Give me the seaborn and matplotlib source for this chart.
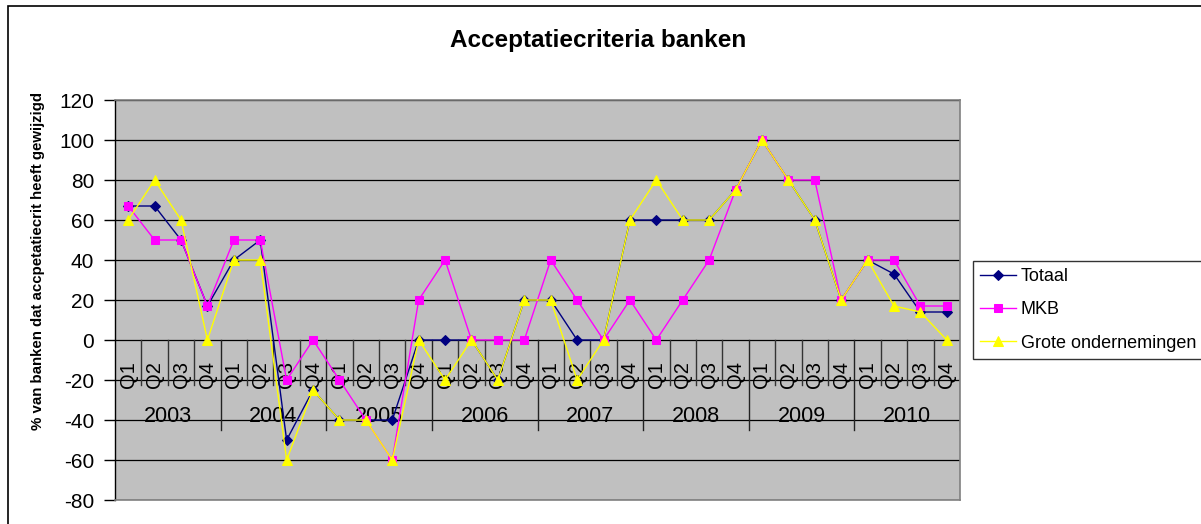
import matplotlib
matplotlib.use("Agg")
import matplotlib.pyplot as plt
import seaborn as sns
import pandas as pd
import numpy as np

years = ['2003', '2004', '2005', '2006', '2007', '2008', '2009', '2010']
quarters = ['Q1', 'Q2', 'Q3', 'Q4']
totaal = [67, 67, 50, 17, 40, 50, -50, -25, -40, -40, -40, 0, 0, 0, -20, 20,
          20, 0, 0, 60, 60, 60, 60, 75, 100, 80, 60, 20, 40, 33, 14, 14]
mkb = [67, 50, 50, 17, 50, 50, -20, 0, -20, -40, -60, 20, 40, 0, 0, 0,
       40, 20, 0, 20, 0, 20, 40, 75, 100, 80, 80, 20, 40, 40, 17, 17]
grote = [60, 80, 60, 0, 40, 40, -60, -25, -40, -40, -60, 0, -20, 0, -20, 20,
         20, -20, 0, 60, 80, 60, 60, 75, 100, 80, 60, 20, 40, 17, 14, 0]
series_names = ['Totaal', 'MKB', 'Grote ondernemingen']
yticks = [-80, -60, -40, -20, 0, 20, 40, 60, 80, 100, 120]

FONT = 'Liberation Sans'
plt.rcParams['font.family'] = [FONT, 'DejaVu Sans']

n = len(years) * len(quarters)
pos = np.arange(n)
df = pd.DataFrame({
    'pos': np.tile(pos, 3),
    'value': totaal + mkb + grote,
    'series': np.repeat(series_names, n),
})

W, H = 1201, 524
fig = plt.figure(figsize=(W / 100, H / 100), dpi=100)
fig.patch.set_facecolor('white')

# outer chart border
fig.add_artist(plt.Rectangle((8 / W, -0.05), 1.1, (H - 6) / H + 0.05,
                             transform=fig.transFigure, fill=False,
                             edgecolor='black', linewidth=1.2))

ax = fig.add_axes([115 / W, (H - 500) / H, (960 - 115) / W, 400 / H])
ax.set_facecolor('#C0C0C0')

styles = {
    'Totaal': dict(color='#000080', marker='D', markersize=5),
    'MKB': dict(color='#FF00FF', marker='s', markersize=6),
    'Grote ondernemingen': dict(color='#FFFF00', marker='^', markersize=7),
}
for i, name in enumerate(series_names):
    st = styles[name]
    sns.lineplot(data=df[df['series'] == name], x='pos', y='value', ax=ax,
                 color=st['color'], marker=st['marker'], markersize=st['markersize'],
                 markeredgecolor=st['color'], linewidth=1.0, label=name,
                 zorder=5 + i)

ax.set_xlim(-0.5, n - 0.5)
ax.set_ylim(-80, 120)
ax.set_yticks(yticks)
ax.set_yticklabels([str(v) for v in yticks], fontsize=15, fontfamily=FONT)
ax.tick_params(axis='y', direction='out', length=8, width=1, pad=7, color='black')
ax.set_xticks([])
ax.set_xlabel('')
ax.set_ylabel('% van banken dat accpetatiecrit heeft gewijzigd', fontsize=10.8,
              fontweight='bold', fontfamily=FONT)
ax.yaxis.set_label_coords(-(115 - 38) / (960 - 115), (500 - 261) / 400)
ax.yaxis.label.set_va('center')

# gridlines
for v in yticks:
    ax.axhline(v, color='black', linewidth=0.9, zorder=1)

for s in ['top', 'right', 'bottom']:
    ax.spines[s].set_color('#808080')
    ax.spines[s].set_linewidth(1.2)
ax.spines['left'].set_color('black')
ax.spines['left'].set_linewidth(1.0)

# category axis (multi-level) at y = 0
for b in range(1, n):
    if b % 4 == 0:
        ax.plot([b - 0.5, b - 0.5], [0, -45], color='#222222', lw=1.0, zorder=2)
    else:
        ax.plot([b - 0.5, b - 0.5], [0, -22.5], color='#333333', lw=1.0, zorder=2)
ax.plot([n - 0.5, n - 0.5], [0, -45], color='#222222', lw=1.0, zorder=2)
for i in range(n):
    ax.text(pos[i], -23.8, quarters[i % 4], rotation=90, ha='center', va='bottom',
            fontsize=14.5, fontfamily=FONT, zorder=3)
for k, y in enumerate(years):
    ax.text(4 * k + 1.5, -38.5, y, ha='center', va='center', fontsize=15.5,
            fontfamily=FONT, zorder=3)

fig.text(598 / W, 1 - 40 / H, 'Acceptatiecriteria banken', ha='center', va='center',
         fontsize=17.5, fontweight='bold', fontfamily=FONT)

handles, labels = ax.get_legend_handles_labels()
if ax.get_legend():
    ax.get_legend().remove()
leg = fig.legend(handles, labels, loc='upper left',
                 bbox_to_anchor=(973 / W, 1 - 261 / H), frameon=True, fancybox=False,
                 edgecolor='black', fontsize=13, borderpad=0.4, labelspacing=0.9,
                 handlelength=2.0, handletextpad=0.25, borderaxespad=0)
leg.get_frame().set_linewidth(1.0)
for t in leg.get_texts():
    t.set_fontfamily(FONT)

fig.savefig('out.png', dpi=100, facecolor='white')
